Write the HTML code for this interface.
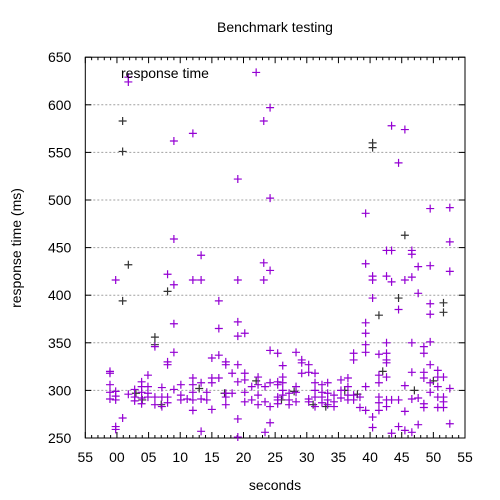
<!DOCTYPE html>
<html><head><meta charset="utf-8"><style>
html,body{margin:0;padding:0;background:#fff;width:500px;height:500px;overflow:hidden}
text{font-family:"Liberation Sans",sans-serif}
</style></head><body>
<svg id="chart" width="500" height="500" viewBox="0 0 500 500" xmlns="http://www.w3.org/2000/svg">
<rect x="0" y="0" width="500" height="500" fill="#fff"/>
<text x="275" y="32" font-size="14" text-anchor="middle">Benchmark testing</text>
<text x="275" y="490" font-size="14" text-anchor="middle">seconds</text>
<text transform="translate(21,248) rotate(-90)" font-size="14" text-anchor="middle">response time (ms)</text>
<g id="grid"></g><g id="axes"></g><g id="marks"></g>
<text x="121" y="78" font-size="14">response time</text>
</svg>
<script>
const xTickValues=[-5,0,5,10,15,20,25,30,35,40,45,50,55];
const xTickLabels=["55","00","05","10","15","20","25","30","35","40","45","50","55"];
const yTickValues=[250,300,350,400,450,500,550,600,650];
const purpleSec=[
-1.1,-1.1,-1.1,-1.1,-1.1,
-0.2,-0.2,-0.2,-0.2,-0.2,-0.2,
0.9,
1.8,1.8,1.8,
2.8,2.8,2.8,
3.9,3.9,3.9,3.9,3.9,
4.9,4.9,4.9,4.9,
6.0,6.0,6.0,
7.1,7.1,7.1,
8.0,8.0,8.0,8.0,8.0,
9.0,9.0,9.0,9.0,9.0,9.0,
10.1,10.1,10.1,
11.1,
12.0,12.0,12.0,12.0,12.0,12.0,12.0,
13.3,13.3,13.3,13.3,13.3,
14.2,14.2,
15.0,15.0,15.0,15.0,
16.1,16.1,16.1,16.1,
17.2,17.2,17.2,17.2,17.2,
18.2,18.2,
19.1,19.1,19.1,19.1,19.1,19.1,19.1,19.1,
20.2,20.2,20.2,20.2,20.2,
21.3,21.3,
22.0,
22.3,22.3,22.3,22.3,
23.2,23.2,23.2,
23.4,23.4,23.4,
24.2,24.2,24.2,24.2,24.2,24.2,24.2,
25.4,25.4,25.4,25.4,25.4,25.4,
26.2,26.2,26.2,26.2,26.2,
27.2,27.2,27.2,
28.3,28.3,28.3,28.3,
29.2,29.2,29.2,
30.3,30.3,30.3,30.3,
31.3,31.3,31.3,31.3,31.3,
32.4,32.4,32.4,32.4,
33.3,33.3,33.3,33.3,
34.3,34.3,34.3,
35.4,35.4,35.4,
36.5,36.5,36.5,36.5,
37.4,37.4,37.4,37.4,
38.4,38.4,
39.3,39.3,39.3,39.3,39.3,39.3,39.3,39.3,
40.4,40.4,40.4,40.4,40.4,
41.4,41.4,41.4,41.4,41.4,41.4,
42.6,42.6,42.6,42.6,42.6,42.6,42.6,42.6,42.6,
43.4,43.4,43.4,43.4,43.4,
44.5,44.5,44.5,44.5,
45.5,45.5,45.5,45.5,45.5,
46.6,46.6,46.6,46.6,46.6,46.6,46.6,
47.6,47.6,47.6,47.6,
48.5,48.5,48.5,48.5,48.5,48.5,
49.5,49.5,49.5,49.5,49.5,49.5,49.5,49.5,
50.7,50.7,50.7,50.7,50.7,
51.6,51.6,51.6,51.6,
52.6,52.6,52.6,52.6,52.6];
const purpleMs=[
320,318,306,298,291,
416,299,294,290,262,259,
271,
629,624,296,
301,293,289,
309,304,298,292,286,
316,304,297,293,
346,293,285,
303,293,283,
422,330,327,293,287,
562,459,411,370,340,301,
306,295,290,
291,
570,416,313,306,298,290,279,
442,416,308,291,257,
298,290,
334,313,308,280,
394,365,337,313,
330,327,297,293,285,
318,297,
522,416,372,357,327,309,270,251,
360,318,311,298,288,
304,290,
634,
314,306,295,285,
583,434,416,
304,288,256,
597,502,426,342,308,283,266,
339,309,306,293,290,286,
326,314,308,300,295,
297,290,285,
340,304,298,288,
332,329,318,
327,319,291,288,
318,308,300,293,283,
306,298,293,287,
308,297,290,285,
295,288,283,
311,300,292,
313,304,295,290,
339,332,295,290,
293,282,
486,433,371,360,348,340,304,279,
420,416,397,272,261,
338,316,308,293,287,279,
447,420,350,339,332,329,314,290,283,
578,447,414,290,255,
539,385,290,262,
574,416,305,278,258,
447,443,419,350,319,291,256,
430,402,292,264,
346,339,319,313,286,282,
491,431,391,380,351,327,308,298,
321,314,304,293,282,
314,293,288,282,
492,456,425,302,265];
const blackSec=[0.9,0.9,0.9,1.8,8.0,6.0,6.0,40.4,40.4,45.5,51.6,51.6,41.4,44.5,4.0,7.0,13.0,17.0,22.0,26.0,31.0,36.0,42.0,47.0,50.0,3.0,28.0,33.0,38.0];
const blackMs=[583,551,394,432,404,356,348,560,555,463,392,382,379,397,290,285,302,297,310,290,285,300,320,300,310,297,299,283,296];

const L=85.3,R=465,T=57.2,B=438;
const xMin=-5,xMax=55,yMin=250,yMax=650;
function sx(v){return L+(v-xMin)/(xMax-xMin)*(R-L);}
function sy(v){return B-(v-yMin)/(yMax-yMin)*(B-T);}
const NS="http://www.w3.org/2000/svg";
function mk(tag,attrs,parent){const e=document.createElementNS(NS,tag);for(const k in attrs)e.setAttribute(k,attrs[k]);parent.appendChild(e);return e;}
const grid=document.getElementById('grid'),axes=document.getElementById('axes'),marks=document.getElementById('marks');
yTickValues.forEach((v,i)=>{
  const y=sy(v);
  if(i>0&&i<yTickValues.length-1){
    const g=mk('line',{x1:L,x2:R,y1:y,y2:y,stroke:'#a0a0a0','stroke-width':1,'stroke-dasharray':'2,2'},grid);
    
    
  }
  mk('line',{x1:L,x2:L+6,y1:y,y2:y,stroke:'#000'},axes);
  mk('line',{x1:R-6,x2:R,y1:y,y2:y,stroke:'#000'},axes);
  const t=mk('text',{x:L-14,y:y+5,'font-size':14,'text-anchor':'end'},axes);
  t.textContent=String(v);
  
  
});
for(let s=xMin;s<=xMax;s++){
  const x=sx(s);const major=(s%5===0);const len=major?6:3;
  mk('line',{x1:x,x2:x,y1:B,y2:B-len,stroke:'#000'},axes);
  mk('line',{x1:x,x2:x,y1:T,y2:T+len,stroke:'#000'},axes);
}
xTickValues.forEach((v,i)=>{
  const t=mk('text',{x:sx(v),y:B+24,'font-size':14,'text-anchor':'middle'},axes);
  t.textContent=xTickLabels[i];
  
  
});
const frame=mk('rect',{x:L,y:T,width:R-L,height:B-T,fill:'none',stroke:'#000','stroke-width':1},axes);


function plus(x,y,color,name){
  const p=mk('path',{d:`M${x-4},${y}H${x+4}M${x},${y-4}V${y+4}`,stroke:color,'stroke-width':1.2,fill:'none'},marks);
  
  
}
blackSec.forEach((s,i)=>plus(sx(s),sy(blackMs[i]),'#333','black-point'));
purpleSec.forEach((s,i)=>plus(sx(s),sy(purpleMs[i]),'#9400d3','response-point'));
</script>
</body></html>
